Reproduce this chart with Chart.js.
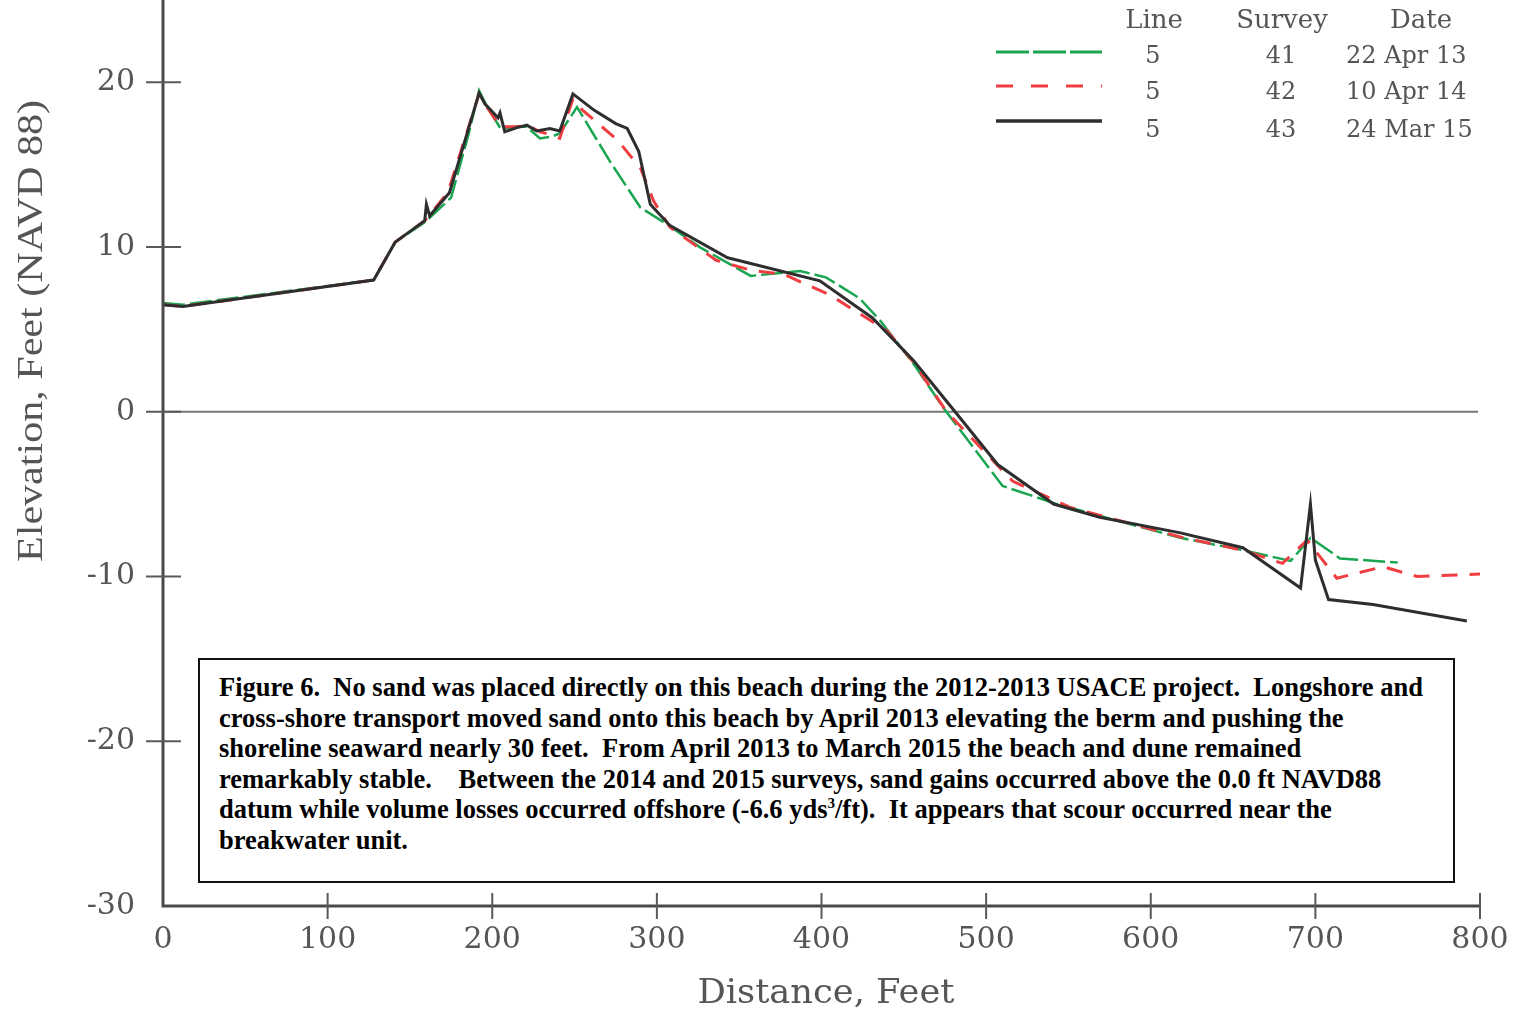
<!DOCTYPE html>
<html>
<head>
<meta charset="utf-8">
<script src="https://cdn.jsdelivr.net/npm/chart.js@4.4.1/dist/chart.umd.min.js"></script>
<style>
  body { margin: 0; background: #fff; }
  #wrap { position: relative; width: 1522px; height: 1014px; }
  #note {
    position: absolute; left: 198px; top: 658px; width: 1257px; height: 225px;
    box-sizing: border-box; border: 2px solid #111; background: #fff;
    padding: 12px 0 0 19px; color: #000; white-space: pre;
    font: bold 26.5px "Liberation Serif", "Times New Roman", serif; line-height: 30.5px;
  }
  #note .sup { font-size: 15px; position: relative; top: -10px; line-height: 0; }
</style>
</head>
<body>
<div id="wrap">
  <canvas id="profile" width="1522" height="1014"></canvas>
  <div id="note">Figure 6.  No sand was placed directly on this beach during the 2012-2013 USACE project.  Longshore and
cross-shore transport moved sand onto this beach by April 2013 elevating the berm and pushing the
shoreline seaward nearly 30 feet.  From April 2013 to March 2015 the beach and dune remained
remarkably stable.    Between the 2014 and 2015 surveys, sand gains occurred above the 0.0 ft NAVD88
datum while volume losses occurred offshore (-6.6 yds<span class="sup">3</span>/ft).  It appears that scour occurred near the
breakwater unit.</div>
</div>
<script>
// survey 41 - 22 Apr 13
const dist41 = [0, 12, 128, 141, 159, 175, 186, 192, 196, 205, 215, 221, 229, 236, 241, 251.5, 271.5, 290, 306, 326, 357, 387, 403, 423, 436, 456, 474, 510, 543, 618, 656, 685, 697, 715, 750];
const elev41 = [6.6, 6.5, 8.0, 10.3, 11.5, 13.0, 17.0, 19.5, 18.7, 17.2, 17.3, 17.3, 16.6, 16.7, 16.9, 18.5, 15.2, 12.4, 11.4, 10.0, 8.25, 8.55, 8.15, 6.9, 5.5, 2.9, 0.25, -4.5, -5.6, -7.65, -8.4, -9.05, -7.65, -8.9, -9.15];

// survey 42 - 10 Apr 14
const dist42 = [0, 12, 128, 141, 159, 173, 192, 196, 205, 215, 221, 229, 236, 241, 249, 255, 276, 290, 298, 308, 336, 357, 377, 405, 440, 456, 476, 516, 551, 618, 656, 680, 695, 713, 741, 762, 800];
const elev42 = [6.5, 6.4, 8.0, 10.3, 11.6, 13.3, 19.3, 18.6, 17.3, 17.3, 17.4, 17.0, 16.8, 16.6, 19.0, 18.3, 16.5, 14.8, 12.8, 11.2, 9.2, 8.6, 8.35, 7.1, 4.9, 3.0, 0.0, -4.2, -5.8, -7.6, -8.4, -9.2, -7.8, -10.1, -9.4, -10.0, -9.85];

// survey 43 - 24 Mar 15
const dist43 = [0, 12, 128, 141, 159, 160, 162, 174, 192, 195.5, 203.5, 204.7, 207.6, 215, 221, 227, 235, 241, 249, 262, 275, 282, 289, 296, 308, 343, 357, 399, 431, 456, 482, 507, 541, 569, 618, 656, 691, 697, 700, 708, 735, 792];
const elev43 = [6.5, 6.4, 8.0, 10.3, 11.6, 12.6, 11.9, 13.3, 19.35, 18.7, 17.85, 18.15, 17.0, 17.25, 17.4, 17.05, 17.2, 17.05, 19.3, 18.3, 17.5, 17.2, 15.8, 12.6, 11.3, 9.35, 9.0, 7.95, 5.7, 3.1, -0.1, -3.2, -5.6, -6.4, -7.35, -8.25, -10.7, -5.6, -9.0, -11.4, -11.7, -12.7];

const xTicks = [0, 100, 200, 300, 400, 500, 600, 700, 800];
const yTicks = [-30, -20, -10, 0, 10, 20];

const legendHead = ['Line', 'Survey', 'Date'];
const legendRows = [
  ['5', '41', '22 Apr 13'],
  ['5', '42', '10 Apr 14'],
  ['5', '43', '24 Mar 15']
];

const pts = (xs, ys) => xs.map((x, i) => ({ x: x, y: ys[i] }));

const GREEN = '#1aa650', RED = '#ef3e42', BLACK = '#2e2e2e', AXIS = '#4a4a4a', TEXT = '#555';
const serif = '"DejaVu Serif", serif';

const fitText = (ctx, str, cx, cy, width, rot) => {
  ctx.save();
  ctx.translate(cx, cy);
  if (rot) ctx.rotate(rot);
  const w = ctx.measureText(str).width;
  ctx.scale(width / w, 1);
  ctx.textAlign = 'center';
  ctx.textBaseline = 'middle';
  ctx.fillText(str, 0, 0);
  ctx.restore();
};

const frame = {
  id: 'frame',
  beforeDatasetsDraw(chart) {
    const ctx = chart.ctx, xs = chart.scales.x, ys = chart.scales.y;
    ctx.save();
    ctx.strokeStyle = '#777';
    ctx.lineWidth = 2;
    ctx.beginPath();
    ctx.moveTo(xs.getPixelForValue(0), ys.getPixelForValue(0));
    ctx.lineTo(xs.getPixelForValue(800) - 2, ys.getPixelForValue(0));
    ctx.stroke();
    ctx.restore();
  },
  afterDatasetsDraw(chart) {
    const ctx = chart.ctx, xs = chart.scales.x, ys = chart.scales.y;
    const left = xs.getPixelForValue(0), right = xs.getPixelForValue(800);
    const bottom = ys.getPixelForValue(-30), top = chart.chartArea.top;
    ctx.save();
    // axes
    ctx.strokeStyle = AXIS;
    ctx.lineWidth = 3;
    ctx.beginPath();
    ctx.moveTo(left, top);
    ctx.lineTo(left, bottom);
    ctx.lineTo(right, bottom);
    ctx.stroke();
    // tick marks crossing the axes
    ctx.lineWidth = 2;
    ctx.strokeStyle = '#5a5a5a';
    yTicks.forEach(v => {
      if (v === -30) return;
      const p = ys.getPixelForValue(v);
      ctx.beginPath(); ctx.moveTo(left - 17, p); ctx.lineTo(left + 18, p); ctx.stroke();
    });
    xTicks.forEach(v => {
      if (v === 0) return;
      const p = xs.getPixelForValue(v);
      ctx.beginPath(); ctx.moveTo(p, bottom - 13); ctx.lineTo(p, bottom + 13); ctx.stroke();
    });
    // axis titles
    ctx.fillStyle = TEXT;
    ctx.font = '34px ' + serif;
    fitText(ctx, 'Distance, Feet', 826, 994, 257, 0);
    ctx.font = '36px "Liberation Serif", serif';
    fitText(ctx, 'Elevation, Feet (NAVD 88)', 33, 331, 462, -Math.PI / 2);
    // legend table
    ctx.font = '26px ' + serif;
    ctx.textAlign = 'center';
    ctx.textBaseline = 'middle';
    const colX = [1154, 1282, 1421];
    legendHead.forEach((h, i) => ctx.fillText(h, colX[i], 21));
    ctx.font = '24px ' + serif;
    const rowY = [57, 93, 131];
    legendRows.forEach((r, j) => {
      ctx.textAlign = 'center';
      ctx.fillText(r[0], 1153, rowY[j]);
      ctx.fillText(r[1], 1281, rowY[j]);
      ctx.textAlign = 'left';
      ctx.fillText(r[2], 1346, rowY[j]);
    });
    const swatch = (y, color, dash, lw) => {
      ctx.strokeStyle = color;
      ctx.lineWidth = lw;
      ctx.setLineDash(dash);
      ctx.beginPath(); ctx.moveTo(996, y); ctx.lineTo(1102, y); ctx.stroke();
    };
    swatch(52, GREEN, [33, 4], 3);
    swatch(86, RED, [17, 18], 3);
    swatch(121, BLACK, [], 3.5);
    ctx.restore();
  }
};

const fitY = s => { s.width = 163; s.paddingTop = 0; s.paddingBottom = 0; };
const fitX = s => { s.height = 108; s.paddingLeft = 0; s.paddingRight = 0; };

new Chart(document.getElementById('profile'), {
  type: 'line',
  data: {
    datasets: [
      { label: 'Survey 43', data: pts(dist43, elev43), borderColor: BLACK, borderWidth: 3 },
      { label: 'Survey 42', data: pts(dist42, elev42), borderColor: RED, borderWidth: 3, borderDash: [16, 12] },
      { label: 'Survey 41', data: pts(dist41, elev41), borderColor: GREEN, borderWidth: 2.5, borderDash: [22, 5] }
    ]
  },
  options: {
    responsive: false,
    animation: false,
    devicePixelRatio: 1,
    elements: { point: { radius: 0 }, line: { tension: 0 } },
    layout: { padding: { top: 0, right: 42, left: 0, bottom: 0 } },
    plugins: { legend: { display: false }, tooltip: { enabled: false } },
    scales: {
      x: {
        type: 'linear', min: 0, max: 800,
        afterBuildTicks: s => { s.ticks = xTicks.map(v => ({ value: v })); },
        afterFit: fitX,
        grid: { display: false },
        border: { display: false },
        ticks: { color: TEXT, font: { family: serif, size: 30 }, padding: 8, maxRotation: 0 }
      },
      y: {
        min: -30, max: 25,
        afterBuildTicks: s => { s.ticks = yTicks.map(v => ({ value: v })); },
        afterFit: fitY,
        grid: { display: false },
        border: { display: false },
        ticks: { color: TEXT, font: { family: serif, size: 30 }, padding: 20 }
      }
    }
  },
  plugins: [frame]
});
</script>
</body>
</html>
